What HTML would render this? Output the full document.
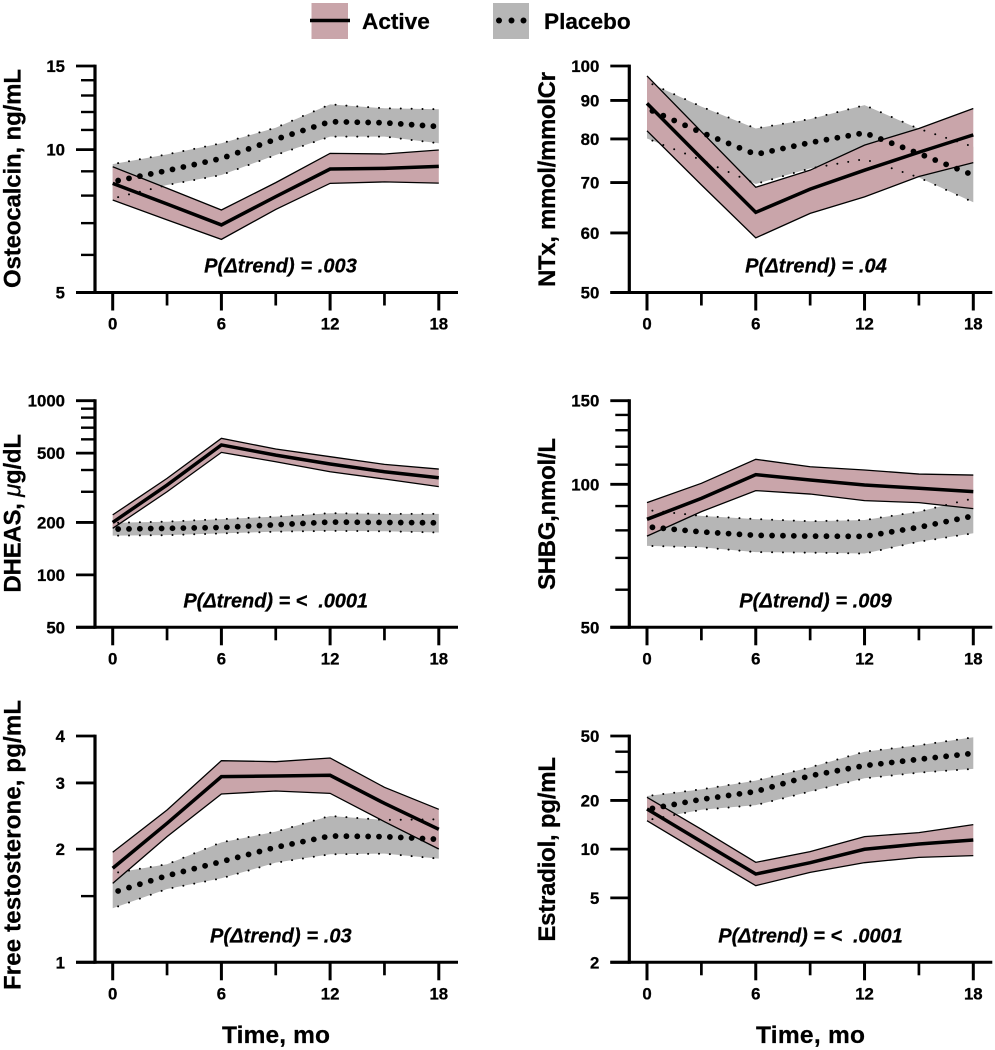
<!DOCTYPE html>
<html lang="en">
<head>
<meta charset="utf-8">
<title>Hormone and bone marker trends</title>
<style>
html,body{margin:0;padding:0;background:#fff;}
svg{display:block;font-family:"Liberation Sans",sans-serif;filter:blur(0.35px);}
text{fill:#000;stroke:#000;stroke-width:0.25px;font-weight:bold;white-space:pre;}
</style>
</head>
<body>
<svg id="figure" xmlns="http://www.w3.org/2000/svg" width="995" height="1050" viewBox="0 0 995 1050">
  <g>
    <rect x="311.5" y="3" width="36.5" height="36" fill="#c9a5aa"/>
    <line x1="310" x2="350" y1="20.5" y2="20.5" stroke="#000" stroke-width="3.4"/>
    <text x="362" y="29" font-size="22.6">Active</text>
    <rect x="493" y="3" width="36" height="36" fill="#b6b6b6"/>
    <circle cx="499" cy="20.5" r="3" fill="#000"/>
    <circle cx="511.5" cy="20.5" r="3" fill="#000"/>
    <circle cx="523.5" cy="20.5" r="3" fill="#000"/>
    <text x="544" y="29" font-size="22.6">Placebo</text>
  </g>
  <text x="276" y="1043" text-anchor="middle" font-size="24.5" textLength="108">Time, mo</text>
  <text x="810.5" y="1043" text-anchor="middle" font-size="24.5" textLength="109">Time, mo</text>
</svg>
<script>
// Shared x categories
const months = [0, 3, 6, 9, 12, 15, 18];
const monthTicks = [0, 6, 12, 18];
const monthMinorTicks = [3, 9, 15];

// Osteocalcin, ng/mL
const osteoTicks = [5, 10, 15];
const osteoMinor = [6, 7, 8, 9, 11, 12, 13, 14];
const osteoActiveMean = [8.49, 7.68, 6.94, 7.96, 9.10, 9.13, 9.22];
const osteoActiveUpper = [9.20, 8.29, 7.46, 8.52, 9.82, 9.79, 9.98];
const osteoActiveLower = [7.83, 7.11, 6.47, 7.48, 8.49, 8.55, 8.50];
const osteoPlaceboMean = [8.56, 9.03, 9.58, 10.51, 11.45, 11.39, 11.18];
const osteoPlaceboUpper = [9.32, 9.77, 10.31, 11.12, 12.45, 12.22, 12.16];
const osteoPlaceboLower = [7.89, 8.42, 8.84, 9.74, 10.65, 10.65, 10.31];

// NTx, mmol/mmolCr
const ntxTicks = [50, 60, 70, 80, 90, 100];
const ntxMinor = [];
const ntxActiveMean = [89.2, 75.4, 63.9, 68.6, 72.7, 76.8, 81.0];
const ntxActiveUpper = [97.0, 81.8, 69.0, 72.7, 78.5, 82.6, 87.8];
const ntxActiveLower = [82.0, 69.5, 59.1, 63.7, 67.0, 71.3, 74.4];
const ntxPlaceboMean = [87.8, 81.6, 76.3, 79.1, 81.5, 76.5, 71.6];
const ntxPlaceboUpper = [95.3, 88.3, 82.6, 85.0, 88.7, 82.5, 78.1];
const ntxPlaceboLower = [80.1, 75.0, 69.7, 73.1, 75.2, 71.1, 65.9];

// DHEAS, ug/dL
const dheasTicks = [50, 100, 200, 500, 1000];
const dheasMinor = [300, 400, 600, 700, 800, 900];
const dheasActiveMean = [200, 328, 557, 487, 433, 391, 361];
const dheasActiveUpper = [221, 358, 608, 528, 477, 431, 405];
const dheasActiveLower = [185, 300, 505, 446, 391, 355, 321];
const dheasPlaceboMean = [183, 185, 187, 194, 201, 200, 199];
const dheasPlaceboUpper = [199, 202, 209, 216, 226, 224, 224];
const dheasPlaceboLower = [168, 169, 173, 177, 179, 178, 175];

// SHBG, nmol/L
const shbgTicks = [50, 100, 150];
const shbgMinor = [60, 70, 80, 90, 110, 120, 130, 140];
const shbgActiveMean = [84.4, 93.4, 104.8, 102.1, 99.7, 98.1, 96.5];
const shbgActiveUpper = [91.5, 100.5, 112.9, 108.9, 107.2, 105.1, 104.6];
const shbgActiveLower = [77.8, 87.6, 97.0, 95.4, 92.4, 91.5, 88.9];
const shbgPlaceboMean = [81.4, 79.4, 78.1, 77.8, 77.7, 81.2, 85.8];
const shbgPlaceboUpper = [88.3, 85.8, 84.5, 83.6, 84.1, 87.6, 93.4];
const shbgPlaceboLower = [74.2, 73.7, 72.0, 71.8, 71.5, 75.7, 78.9];

// Free testosterone, pg/mL
const testoTicks = [1, 2, 3, 4];
const testoMinor = [1.5];
const testoActiveMean = [1.779, 2.343, 3.118, 3.131, 3.144, 2.648, 2.258];
const testoActiveUpper = [1.962, 2.542, 3.439, 3.418, 3.496, 2.921, 2.553];
const testoActiveLower = [1.622, 2.159, 2.804, 2.856, 2.815, 2.367, 2.002];
const testoPlaceboMean = [1.532, 1.700, 1.853, 2.023, 2.168, 2.159, 2.124];
const testoPlaceboUpper = [1.725, 1.823, 2.085, 2.226, 2.451, 2.391, 2.401];
const testoPlaceboLower = [1.392, 1.567, 1.673, 1.841, 1.938, 1.946, 1.887];

// Estradiol, pg/mL
const e2Ticks = [2, 5, 10, 20, 50];
const e2Minor = [30, 40];
const e2ActiveMean = [17.7, 11.13, 7.02, 8.25, 9.98, 10.76, 11.39];
const e2ActiveUpper = [20.9, 13.26, 8.29, 9.65, 11.95, 12.65, 14.17];
const e2ActiveLower = [15.0, 9.43, 5.95, 7.19, 8.25, 8.90, 9.12];
const e2PlaceboMean = [17.6, 20.3, 22.7, 28.4, 32.8, 35.9, 39.1];
const e2PlaceboUpper = [21.3, 23.4, 26.5, 32.0, 40.0, 43.8, 49.1];
const e2PlaceboLower = [15.1, 17.5, 18.7, 22.7, 27.4, 29.7, 31.3];

const SVG_NS = 'http://www.w3.org/2000/svg';
const figure = document.getElementById('figure');

function make(tag, parent, props) {
  const node = document.createElementNS(SVG_NS, tag);
  for (const key in props) node.setAttribute(key, props[key]);
  parent.appendChild(node);
  return node;
}

function drawPanel(p) {
  const group = make('g', figure, {});
  
  

  const logMin = Math.log(p.ticks[0]);
  const logMax = Math.log(p.ticks[p.ticks.length - 1]);
  const xScale = m => p.x0 + (m - months[0]) * (p.x18 - p.x0) / (months[months.length - 1] - months[0]);
  const yScale = v => p.bottom - (Math.log(v) - logMin) / (logMax - logMin) * (p.bottom - p.top);
  const linePath = values => values.map((v, i) => (i ? 'L' : 'M') + xScale(months[i]).toFixed(2) + ' ' + yScale(v).toFixed(2)).join(' ');
  const bandPath = (upper, lower) => {
    const back = lower.map((v, i) => [months[i], v]).reverse();
    return linePath(upper) + ' ' + back.map(d => 'L' + xScale(d[0]).toFixed(2) + ' ' + yScale(d[1]).toFixed(2)).join(' ') + ' Z';
  };
  const valueAt = (values, m) => {
    let i = 0;
    while (i < months.length - 2 && m > months[i + 1]) i++;
    const t = (m - months[i]) / (months[i + 1] - months[i]);
    return Math.exp(Math.log(values[i]) * (1 - t) + Math.log(values[i + 1]) * t);
  };

  // Placebo band
  const placeboBand = make('path', group, {d: bandPath(p.placeboUpper, p.placeboLower), fill: '#b6b6b6'});
  
  

  // Active band and lines
  const activeBand = make('path', group, {d: bandPath(p.activeUpper, p.activeLower), fill: '#c9a5aa'});
  
  

  const activeUpper = make('path', group, {d: linePath(p.activeUpper), fill: 'none', stroke: '#000', 'stroke-width': 1.3});
  
  

  const activeLower = make('path', group, {d: linePath(p.activeLower), fill: 'none', stroke: '#000', 'stroke-width': 1.3});
  
  

  const activeMean = make('path', group, {d: linePath(p.activeMean), fill: 'none', stroke: '#000', 'stroke-width': 3.5});
  
  

  // Placebo dotted lines
  for (let k = 0; k < 30; k++) {
    const m = 0.3 + 0.6 * k;
    const meanDot = make('circle', group, {cx: xScale(m).toFixed(2), cy: yScale(valueAt(p.placeboMean, m)).toFixed(2), r: 2.9, fill: '#000'});
    
    

    const upperDot = make('circle', group, {cx: xScale(m).toFixed(2), cy: yScale(valueAt(p.placeboUpper, m)).toFixed(2), r: 1, fill: '#000'});
    
    

    const lowerDot = make('circle', group, {cx: xScale(m).toFixed(2), cy: yScale(valueAt(p.placeboLower, m)).toFixed(2), r: 1, fill: '#000'});
    
    
  }

  // Axes
  const yAxis = make('line', group, {x1: p.axisX, x2: p.axisX, y1: p.top - 1.4, y2: p.bottom + 1.4, stroke: '#000', 'stroke-width': 3.2});
  
  

  const xAxis = make('line', group, {x1: p.axisX - 19, x2: p.axisX + 363, y1: p.bottom, y2: p.bottom, stroke: '#000', 'stroke-width': 3});
  
  

  for (const v of p.ticks) {
    const tick = make('line', group, {x1: p.axisX - 19, x2: p.axisX, y1: yScale(v), y2: yScale(v), stroke: '#000', 'stroke-width': 2.8});
    
    

    const label = make('text', group, {x: p.axisX - 30, y: yScale(v) + 6, 'text-anchor': 'end', 'font-size': 16.8});
    label.textContent = v;
    
    
  }
  for (const v of p.minor) {
    const tick = make('line', group, {x1: p.axisX - 14, x2: p.axisX, y1: yScale(v), y2: yScale(v), stroke: '#000', 'stroke-width': 2.4});
    
    
  }
  for (const m of monthTicks) {
    const tick = make('line', group, {x1: xScale(m), x2: xScale(m), y1: p.bottom, y2: p.bottom + 18, stroke: '#000', 'stroke-width': 3});
    
    

    const label = make('text', group, {x: xScale(m), y: p.bottom + 37, 'text-anchor': 'middle', 'font-size': 16.8});
    label.textContent = m;
    
    
  }
  for (const m of monthMinorTicks) {
    const tick = make('line', group, {x1: xScale(m), x2: xScale(m), y1: p.bottom, y2: p.bottom + 13, stroke: '#000', 'stroke-width': 2.7});
    
    
  }

  // Y axis title
  const title = make('text', group, {
    x: p.titleX, y: p.titleY, 'text-anchor': 'middle', 'font-size': 24,
    textLength: p.titleLen, transform: 'rotate(-90 ' + p.titleX + ' ' + p.titleY + ')'
  });
  
  
  if (p.titleParts) {
    title.appendChild(document.createTextNode(p.titleParts[0]));
    const greek = make('tspan', title, {'font-style': 'italic', 'font-weight': 'normal'});
    greek.textContent = p.titleParts[1];
    title.appendChild(document.createTextNode(p.titleParts[2]));
  } else {
    title.textContent = p.title;
  }

  // P-value annotation
  const note = make('text', group, {
    x: p.noteX, y: p.noteY, 'text-anchor': 'middle', 'font-size': 20,
    'font-style': 'italic', textLength: p.noteLen
  });
  note.textContent = p.note;
  
  
}

const leftCol = {axisX: 95, x0: 112.7, x18: 438.8, titleX: 20.5};
const rightCol = {axisX: 629.3, x0: 647, x18: 973.3, titleX: 555};
const row1 = {top: 66, bottom: 292.5, noteY: 272.7};
const row2 = {top: 400.7, bottom: 627.3, noteY: 607.3};
const row3 = {top: 736, bottom: 962.3, noteY: 942.7};

drawPanel(Object.assign({}, leftCol, row1, {
  id: 'osteocalcin', title: 'Osteocalcin, ng/mL', titleY: 178.5, titleLen: 219,
  note: 'P(\u0394trend) = .003', noteX: 280.5, noteLen: 152.7,
  ticks: osteoTicks, minor: osteoMinor,
  activeMean: osteoActiveMean, activeUpper: osteoActiveUpper, activeLower: osteoActiveLower,
  placeboMean: osteoPlaceboMean, placeboUpper: osteoPlaceboUpper, placeboLower: osteoPlaceboLower
}));
drawPanel(Object.assign({}, rightCol, row1, {
  id: 'ntx', title: 'NTx, mmol/mmolCr', titleY: 179.5, titleLen: 215,
  note: 'P(\u0394trend) = .04', noteX: 816, noteLen: 141.7,
  ticks: ntxTicks, minor: ntxMinor,
  activeMean: ntxActiveMean, activeUpper: ntxActiveUpper, activeLower: ntxActiveLower,
  placeboMean: ntxPlaceboMean, placeboUpper: ntxPlaceboUpper, placeboLower: ntxPlaceboLower
}));
drawPanel(Object.assign({}, leftCol, row2, {
  id: 'dheas', titleParts: ['DHEAS, ', '\u03BC', 'g/dL'], titleY: 513.3, titleLen: 158.7,
  note: 'P(\u0394trend) = <  .0001', noteX: 275.7, noteLen: 184.7,
  ticks: dheasTicks, minor: dheasMinor,
  activeMean: dheasActiveMean, activeUpper: dheasActiveUpper, activeLower: dheasActiveLower,
  placeboMean: dheasPlaceboMean, placeboUpper: dheasPlaceboUpper, placeboLower: dheasPlaceboLower
}));
drawPanel(Object.assign({}, rightCol, row2, {
  id: 'shbg', title: 'SHBG,nmol/L', titleY: 514, titleLen: 152,
  note: 'P(\u0394trend) = .009', noteX: 815.5, noteLen: 152.4,
  ticks: shbgTicks, minor: shbgMinor,
  activeMean: shbgActiveMean, activeUpper: shbgActiveUpper, activeLower: shbgActiveLower,
  placeboMean: shbgPlaceboMean, placeboUpper: shbgPlaceboUpper, placeboLower: shbgPlaceboLower
}));
drawPanel(Object.assign({}, leftCol, row3, {
  id: 'free-testosterone', title: 'Free testosterone, pg/mL', titleY: 845, titleLen: 290,
  note: 'P(\u0394trend) = .03', noteX: 280.8, noteLen: 141.7,
  ticks: testoTicks, minor: testoMinor,
  activeMean: testoActiveMean, activeUpper: testoActiveUpper, activeLower: testoActiveLower,
  placeboMean: testoPlaceboMean, placeboUpper: testoPlaceboUpper, placeboLower: testoPlaceboLower
}));
drawPanel(Object.assign({}, rightCol, row3, {
  id: 'estradiol', title: 'Estradiol, pg/mL', titleY: 849.3, titleLen: 184.7,
  note: 'P(\u0394trend) = <  .0001', noteX: 810.5, noteLen: 184.4,
  ticks: e2Ticks, minor: e2Minor,
  activeMean: e2ActiveMean, activeUpper: e2ActiveUpper, activeLower: e2ActiveLower,
  placeboMean: e2PlaceboMean, placeboUpper: e2PlaceboUpper, placeboLower: e2PlaceboLower
}));
</script>
</body>
</html>
